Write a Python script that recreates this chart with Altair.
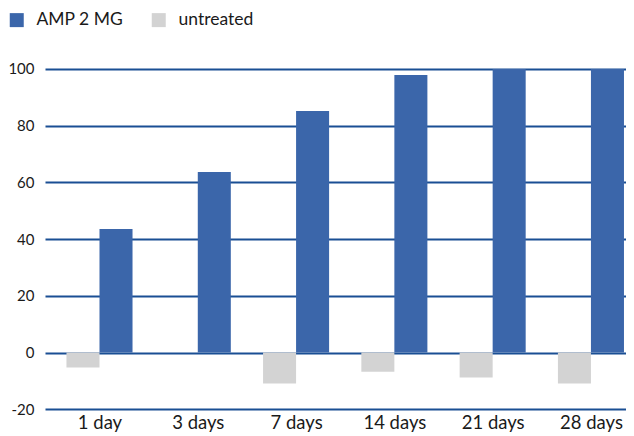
import altair as alt
import pandas as pd

days = ["1 day", "3 days", "7 days", "14 days", "21 days", "28 days"]
amp = [43.6, 63.7, 85.2, 97.9, 100, 100]
untreated = [-5.3, 0, -10.9, -6.8, -8.8, -10.9]
series = ["AMP 2 MG", "untreated"]
colors = ["#3b66aa", "#d3d3d3"]

rows = []
for i, d in enumerate(days):
    rows.append({"idx": i, "day": d, "series": "untreated", "x0": i - 0.336, "x1": i, "v": untreated[i]})
    rows.append({"idx": i, "day": d, "series": "AMP 2 MG", "x0": i, "x1": i + 0.336, "v": amp[i]})
df = pd.DataFrame(rows)

label_expr = "[" + ",".join("'%s'" % d for d in days) + "][round(datum.value)]"

font = "Lato"

chart = alt.Chart(df).mark_bar().encode(
    x=alt.X("x0:Q",
            scale=alt.Scale(domain=[-0.5544, 5.3566], nice=False, zero=False),
            axis=alt.Axis(values=list(range(len(days))), labelExpr=label_expr, title=None,
                          grid=False, ticks=False, domain=False, labelFontSize=18.5,
                          labelPadding=4, labelColor="#1a1a1a", labelFont=font)),
    x2="x1:Q",
    y=alt.Y("v:Q",
            scale=alt.Scale(domain=[-20, 100], nice=False),
            axis=alt.Axis(values=[-20, 0, 20, 40, 60, 80, 100], title=None, grid=True,
                          gridColor="#1a4f94", gridWidth=2, gridOpacity=1,
                          labelExpr="'' + datum.value",
                          ticks=False, domain=False, labelFontSize=15, labelPadding=11,
                          labelColor="#1a1a1a", labelFont=font)),
    y2=alt.datum(0),
    color=alt.Color("series:N",
                    scale=alt.Scale(domain=series, range=colors),
                    legend=alt.Legend(orient="none", legendX=-37, legendY=-58, direction="horizontal",
                                      title=None, symbolType="square", symbolSize=196,
                                      symbolStrokeWidth=0, labelFontSize=17.5, labelFont=font,
                                      labelColor="#1a1a1a", labelOffset=11, columnPadding=26,
                                      padding=0, symbolOpacity=1)),
).properties(
    width=581,
    height=340.3,
    autosize=alt.AutoSizeParams(type="none"),
    padding={"left": 37, "top": 61, "right": 0, "bottom": 24},
).configure_view(stroke=None)

chart.save("out.html", embed_options={"renderer": "svg", "actions": False})
